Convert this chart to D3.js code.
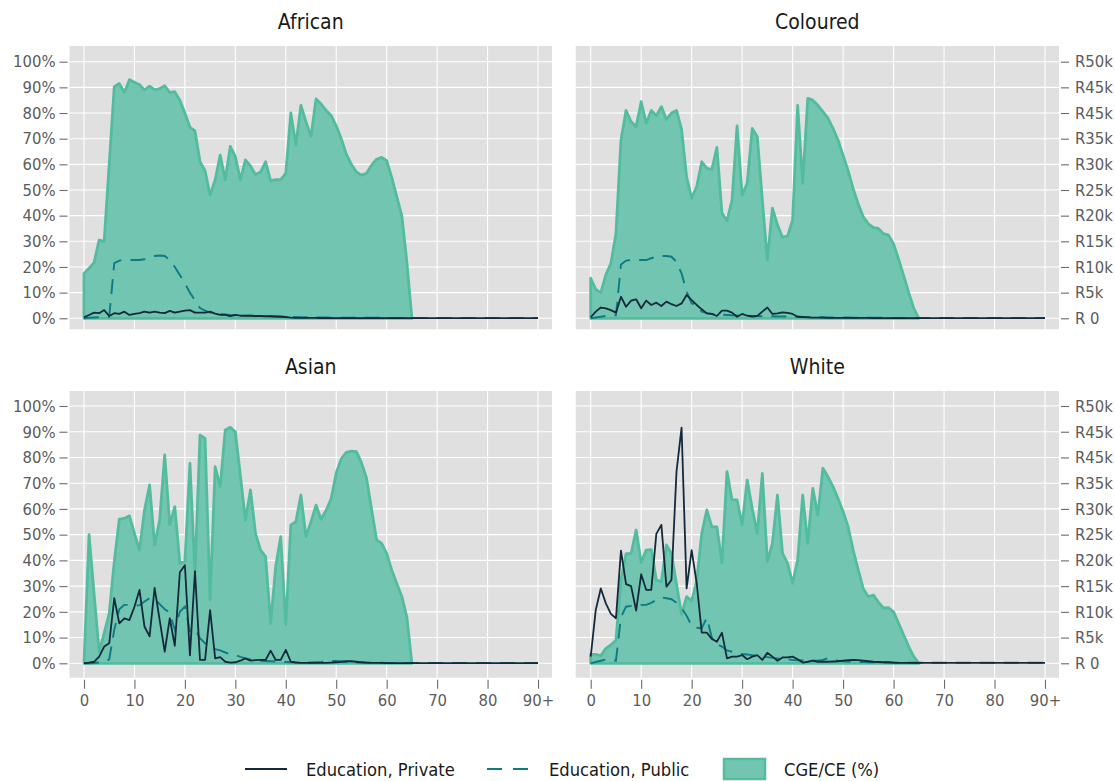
<!DOCTYPE html>
<html>
<head>
<meta charset="utf-8">
<script src="https://cdn.jsdelivr.net/npm/d3@7"></script>
<style>
  body { margin: 0; background: #fff; }
  svg text { font-family: "Liberation Sans Narrow", "DejaVu Sans Condensed", "Roboto", sans-serif; }
</style>
</head>
<body>
<svg id="chart" width="1115" height="781"></svg>
<script>
// ---------------- DATA ----------------
const panelNames = ["African", "Coloured", "Asian", "White"];
const xTickValues = [0, 10, 20, 30, 40, 50, 60, 70, 80, 90];
const xTickLabels = ["0", "10", "20", "30", "40", "50", "60", "70", "80", "90+"];
const yTickValues = [0, 10, 20, 30, 40, 50, 60, 70, 80, 90, 100];
const yTickLabelsLeft = ["0%", "10%", "20%", "30%", "40%", "50%", "60%", "70%", "80%", "90%", "100%"];
const yTickLabelsRight = ["R 0", "R5k", "R10k", "R15k", "R20k", "R25k", "R30k", "R35k", "R45k", "R45k", "R50k"];
const seriesNames = ["Education, Private", "Education, Public", "CGE/CE (%)"];

// CGE/CE (%) by age 0..65
const africanCGE = [17.5, 19.5, 21.7, 30.5, 30, 60, 90.3, 91.5, 88, 93,
  92, 91, 89, 90.5, 89, 89.5, 90.6, 88, 88.3, 85,
  80, 74.4, 73, 61, 57.5, 48, 54, 63.6, 54, 67,
  63, 54, 61.7, 59.4, 56, 57, 61, 53.6, 54, 54,
  56.5, 80, 67.5, 83, 76.6, 70.8, 85.5, 83.5, 81, 79,
  75, 70, 64, 60, 57, 55.8, 56.5, 59.7, 62, 62.7,
  61.4, 55, 47.4, 40, 22, 0];
const colouredCGE = [15.6, 11.3, 10, 16.9, 21.4, 33, 69.5, 81, 76.6, 74.7,
  84.4, 76, 81, 79, 82.5, 77.5, 80, 81, 73.6, 55,
  46.8, 51.3, 61, 58.4, 58, 66.6, 41, 38, 46, 75,
  48, 52.6, 74, 70.8, 46, 22.7, 42.9, 36.4, 31.6, 32,
  38.3, 83, 52.6, 85.7, 85, 83, 80.5, 78, 74, 69.5,
  63.5, 57.5, 50.5, 44.5, 39.6, 36.8, 35.3, 35, 33, 32.4,
  29, 23, 16.6, 10, 3.9, 0];
const asianCGE = [0, 50, 27, 4.5, 11.7, 19.4, 39.5, 56, 56.3, 57.3,
  50.5, 44, 59.6, 69.3, 46, 55.7, 81, 53.8, 60.9, 38.9,
  39.5, 77.7, 35, 88.7, 87.4, 24.6, 76.4, 68.7, 90.7, 91.7,
  90, 73, 55.7, 67.4, 50.5, 44, 41.5, 15.5, 37.6, 49.2,
  14.9, 53.8, 55, 65.4, 49.2, 55, 61.5, 56, 59.5, 64,
  74, 79.5, 82, 82.5, 82.3, 78, 72, 60, 48, 46.6,
  42.7, 36.3, 31, 26, 18, 0];
const whiteCGE = [3.5, 3.5, 3, 5.8, 7.1, 9, 32.4, 42.6, 42.7, 51.8,
  39.2, 44, 44.2, 32.4, 31.7, 46, 42.7, 30.7, 19, 25.9,
  24.3, 32, 50.5, 59.6, 53, 53, 38.9, 74.5, 63.5, 63.5,
  53.8, 71.2, 60.2, 50.5, 73.8, 39.5, 46.6, 65.4, 42.7, 38.9,
  31.1, 40.2, 65.4, 46.6, 68, 57.6, 75.8, 72.5, 68.7, 64,
  59, 53, 44, 36.3, 29, 25.9, 26.5, 23.8, 21.5, 21.6,
  20, 15.5, 11, 6.5, 2.6, 0];

// Education, Private (% scale) by age 0..90
const africanPrivate = [0.4, 1.3, 2.2, 2.0, 3.2, 0.9, 2.0, 1.7, 2.6, 1.3,
  1.7, 2.0, 2.6, 2.2, 2.6, 2.2, 2.0, 2.9, 2.2, 2.6,
  3.0, 3.2, 2.2, 2.2, 2.2, 2.6, 1.8, 1.3, 1.3, 0.8,
  1.3, 1.0, 1.0, 1.0, 0.9, 0.9, 0.8, 0.8, 0.7, 0.6,
  0.5, 0.3, 0.2, 0.2, 0.2, 0.2, 0.2, 0.1, 0.1, 0.1,
  0.1, 0.1, 0.1, 0.1, 0.1, 0.1, 0.1, 0.1, 0.1, 0.1,
  0.1, 0.1, 0.1, 0.1, 0.1, 0.1, 0.1, 0.1, 0.1, 0.1,
  0.1, 0.1, 0.1, 0.1, 0.1, 0.1, 0.1, 0.1, 0.1, 0.1,
  0.1, 0.1, 0.1, 0.1, 0.1, 0.1, 0.1, 0.1, 0.1, 0.1,
  0.1];
const colouredPrivate = [0.4, 2.6, 4.2, 3.9, 3.2, 2.2, 8.4, 4.5, 6.9, 7.4,
  3.9, 6.9, 5.2, 6.1, 4.8, 6.5, 5.5, 4.8, 5.8, 9.1,
  7.1, 5.2, 3.5, 1.9, 1.7, 0.9, 3.0, 3.0, 2.2, 0.6,
  1.7, 1.0, 0.7, 0.9, 2.6, 4.2, 1.7, 1.9, 2.3, 2.1,
  1.7, 0.6, 0.5, 0.4, 0.3, 0.3, 0.3, 0.2, 0.2, 0.2,
  0.2, 0.2, 0.2, 0.2, 0.2, 0.2, 0.1, 0.1, 0.1, 0.1,
  0.1, 0.1, 0.1, 0.1, 0.1, 0.1, 0.1, 0.1, 0.1, 0.1,
  0.1, 0.1, 0.1, 0.1, 0.1, 0.1, 0.1, 0.1, 0.1, 0.1,
  0.1, 0.1, 0.1, 0.1, 0.1, 0.1, 0.1, 0.1, 0.1, 0.1,
  0.1];
const asianPrivate = [0, 0.3, 0.6, 2.6, 6.5, 7.8, 25.3, 15.5, 17.5, 16.8,
  22, 28.5, 14.2, 10.5, 29.3, 16.8, 4.5, 17.5, 6.8, 35.4,
  38.1, 3.1, 35.8, 1.3, 1.3, 20.7, 1.9, 2.4, 0.6, 0.3,
  0.4, 1.0, 1.9, 1.0, 1.2, 1.3, 1.3, 4.9, 1.3, 1.3,
  5.2, 0.6, 0.3, 0.2, 0.2, 0.2, 0.2, 0.2, 0.2, 0.3,
  0.4, 0.6, 0.8, 0.8, 0.6, 0.4, 0.3, 0.2, 0.2, 0.2,
  0.1, 0.1, 0.1, 0.1, 0.1, 0.1, 0.1, 0.1, 0.1, 0.1,
  0.1, 0.1, 0.1, 0.1, 0.1, 0.1, 0.1, 0.1, 0.1, 0.1,
  0.1, 0.1, 0.1, 0.1, 0.1, 0.1, 0.1, 0.1, 0.1, 0.1,
  0.1];
const whitePrivate = [2.6, 20.7, 29.1, 23.3, 19.2, 17.5, 43.8, 30.8, 30, 20.5,
  34.6, 28.5, 28.5, 50.3, 53.8, 29.8, 32.4, 74.5, 91.6, 29.1,
  44, 31.1, 11.9, 11.9, 9.5, 8.4, 11.9, 1.9, 2.6, 2.6,
  3.2, 1.6, 2.6, 3.2, 1.3, 4.1, 2.6, 1.0, 2.3, 2.3,
  2.6, 1.6, 0.3, 0.6, 1.0, 0.6, 0.6, 0.6, 0.7, 0.8,
  1.0, 1.2, 1.3, 1.2, 1.0, 0.8, 0.6, 0.5, 0.4, 0.4,
  0.3, 0.2, 0.2, 0.2, 0.2, 0.2, 0.2, 0.2, 0.2, 0.2,
  0.2, 0.2, 0.2, 0.2, 0.2, 0.2, 0.2, 0.2, 0.2, 0.2,
  0.2, 0.2, 0.2, 0.2, 0.2, 0.2, 0.2, 0.2, 0.2, 0.2,
  0.2];

// Education, Public (% scale) by age 0..90
const africanPublic = [0, 0.2, 0.3, 0.4, 0.5, 0.6, 21.5, 22.5, 22.7, 22.7,
  22.7, 22.7, 23.0, 23.8, 24.3, 24.5, 24.3, 22.7, 20.0, 16.9,
  13.6, 10.0, 7.0, 4.0, 3.0, 2.2, 2.0, 1.7, 1.5, 1.3,
  1.2, 1.1, 1.0, 1.0, 0.9, 0.9, 0.8, 0.8, 0.7, 0.7,
  0.6, 0.5, 0.5, 0.4, 0.4, 0.3, 0.3, 0.3, 0.3, 0.2,
  0.2, 0.2, 0.2, 0.2, 0.2, 0.2, 0.2, 0.2, 0.2, 0.2,
  0.1, 0.1, 0.1, 0.1, 0.1, 0.1, 0.1, 0.1, 0.1, 0.1,
  0.1, 0.1, 0.1, 0.1, 0.1, 0.1, 0.1, 0.1, 0.1, 0.1,
  0.1, 0.1, 0.1, 0.1, 0.1, 0.1, 0.1, 0.1, 0.1, 0.1,
  0.1];
const colouredPublic = [0, 0.3, 0.6, 1.0, 1.1, 1.2, 21.0, 22.5, 22.7, 22.7,
  22.7, 22.7, 23.4, 24.0, 24.3, 24.3, 24.0, 22.0, 17.5, 10.4,
  5.8, 5.2, 2.6, 2.0, 1.7, 1.5, 1.4, 1.3, 1.2, 1.1,
  1.0, 1.0, 0.9, 0.9, 0.8, 0.8, 0.8, 0.7, 0.7, 0.7,
  0.6, 0.6, 0.5, 0.5, 0.4, 0.4, 0.4, 0.3, 0.3, 0.3,
  0.3, 0.3, 0.2, 0.2, 0.2, 0.2, 0.2, 0.2, 0.2, 0.2,
  0.1, 0.1, 0.1, 0.1, 0.1, 0.1, 0.1, 0.1, 0.1, 0.1,
  0.1, 0.1, 0.1, 0.1, 0.1, 0.1, 0.1, 0.1, 0.1, 0.1,
  0.1, 0.1, 0.1, 0.1, 0.1, 0.1, 0.1, 0.1, 0.1, 0.1,
  0.1];
const asianPublic = [0, 0, 0.1, 0.3, 0.5, 1.5, 13.0, 21.0, 22.7, 22.7,
  22.5, 22.5, 24.0, 25.3, 25.0, 23.0, 21.0, 19.7, 13.0, 20.0,
  22.0, 12.5, 13.5, 9.7, 7.8, 6.5, 5.5, 5.0, 4.2, 3.5,
  3.2, 2.5, 1.9, 1.5, 1.2, 1.0, 0.9, 0.8, 0.7, 0.6,
  0.5, 0.4, 0.4, 0.3, 0.3, 0.3, 0.4, 0.5, 0.7, 0.9,
  0.9, 0.7, 0.5, 0.4, 0.3, 0.3, 0.2, 0.2, 0.2, 0.2,
  0.1, 0.1, 0.1, 0.1, 0.1, 0.1, 0.1, 0.1, 0.1, 0.1,
  0.1, 0.1, 0.1, 0.1, 0.1, 0.1, 0.1, 0.1, 0.1, 0.1,
  0.1, 0.1, 0.1, 0.1, 0.1, 0.1, 0.1, 0.1, 0.1, 0.1,
  0.1];
const whitePublic = [0, 0.5, 1.0, 1.5, 1.2, 1.0, 18.0, 22.0, 22.3, 22.7,
  22.7, 22.7, 23.5, 24.6, 25.6, 25.3, 24.9, 23.5, 21.4, 18.5,
  14.5, 13.8, 13.6, 17.7, 10.0, 7.5, 6.5, 5.0, 4.5, 4.0,
  3.6, 3.4, 3.2, 2.8, 2.6, 2.4, 2.1, 1.9, 1.7, 1.6,
  1.3, 1.2, 1.1, 1.0, 1.0, 1.0, 1.3, 2.0, 1.5, 1.0,
  0.8, 0.7, 0.6, 0.5, 0.5, 0.4, 0.4, 0.3, 0.3, 0.3,
  0.2, 0.2, 0.2, 0.2, 0.2, 0.2, 0.2, 0.2, 0.2, 0.2,
  0.2, 0.2, 0.2, 0.2, 0.2, 0.2, 0.2, 0.2, 0.2, 0.2,
  0.2, 0.2, 0.2, 0.2, 0.2, 0.2, 0.2, 0.2, 0.2, 0.2,
  0.2];

// ---------------- LAYOUT & STYLE ----------------
const colors = { area: "#72c6b1", areaStroke: "#53bc9e", priv: "#14293c", pub: "#0d7b84",
  panel: "#e0e0e0", grid: "#ffffff", tick: "#6b6b6b", tickText: "#5c5c5c", title: "#1a1a1a" };

const cols = [
  { left: 69.5, right: 552, x0: 84, x90: 538 },
  { left: 575.7, right: 1059, x0: 590.7, x90: 1045 }
];
const rows = [
  { top: 46, bottom: 329.3, y0: 318.3, y100: 61.7, titleY: 22 },
  { top: 391, bottom: 677.7, y0: 663.3, y100: 406, titleY: 367 }
];

const panels = [
  { name: panelNames[0], col: 0, row: 0, cge: africanCGE, priv: africanPrivate, pub: africanPublic },
  { name: panelNames[1], col: 1, row: 0, cge: colouredCGE, priv: colouredPrivate, pub: colouredPublic },
  { name: panelNames[2], col: 0, row: 1, cge: asianCGE, priv: asianPrivate, pub: asianPublic },
  { name: panelNames[3], col: 1, row: 1, cge: whiteCGE, priv: whitePrivate, pub: whitePublic }
];

const svg = d3.select("#chart");

panels.forEach(p => {
  const c = cols[p.col], r = rows[p.row];
  const x = d3.scaleLinear().domain([0, 90]).range([c.x0, c.x90]);
  const y = d3.scaleLinear().domain([0, 100]).range([r.y0, r.y100]);
  const g = svg.append("g");

  g.append("rect").attr("x", c.left).attr("y", r.top)
    .attr("width", c.right - c.left).attr("height", r.bottom - r.top)
    .attr("fill", colors.panel);

  g.selectAll(".hg").data(yTickValues).enter().append("line")
    .attr("x1", c.left).attr("x2", c.right)
    .attr("y1", d => y(d)).attr("y2", d => y(d))
    .attr("stroke", colors.grid).attr("stroke-width", 1.1);
  g.selectAll(".vg").data(xTickValues).enter().append("line")
    .attr("y1", r.top).attr("y2", r.bottom)
    .attr("x1", d => x(d)).attr("x2", d => x(d))
    .attr("stroke", colors.grid).attr("stroke-width", 1.1);

  const cgeData = p.cge.map((v, i) => [i, v]);
  const area = d3.area().x(d => x(d[0])).y0(y(0)).y1(d => y(d[1]));
  g.append("path").datum(cgeData).attr("d", area)
    .attr("fill", colors.area).attr("stroke", colors.areaStroke)
    .attr("stroke-width", 2.8).attr("stroke-linejoin", "round");

  const line = d3.line().x(d => x(d[0])).y(d => y(d[1]));
  g.append("path").datum(p.pub.map((v, i) => [i, v])).attr("d", line)
    .attr("fill", "none").attr("stroke", colors.pub).attr("stroke-width", 1.9)
    .attr("stroke-dasharray", "15,9");

  g.append("path").datum(p.priv.map((v, i) => [i, v])).attr("d", line)
    .attr("fill", "none").attr("stroke", colors.priv).attr("stroke-width", 1.8)
    .attr("stroke-linejoin", "round");

  svg.append("text").attr("x", (c.left + c.right) / 2).attr("y", r.titleY)
    .attr("text-anchor", "middle").attr("dominant-baseline", "central")
    .attr("font-size", 21).attr("fill", colors.title).text(p.name);

  if (p.col === 0) {
    const ax = d3.axisLeft(y).tickValues(yTickValues).tickSize(8).tickPadding(4)
      .tickFormat((d, i) => yTickLabelsLeft[i]);
    const ag = svg.append("g").attr("transform", `translate(${c.left - 2},0)`).call(ax);
    ag.select(".domain").remove();
    ag.selectAll("line").attr("stroke", colors.tick).attr("stroke-width", 1.1);
    ag.selectAll("text").attr("font-size", 16.5).attr("fill", colors.tickText);
  }
  if (p.col === 1) {
    const ax = d3.axisRight(y).tickValues(yTickValues).tickSize(8).tickPadding(6)
      .tickFormat((d, i) => yTickLabelsRight[i]);
    const ag = svg.append("g").attr("transform", `translate(${c.right + 2},0)`).call(ax);
    ag.select(".domain").remove();
    ag.selectAll("line").attr("stroke", colors.tick).attr("stroke-width", 1.1);
    ag.selectAll("text").attr("font-size", 16.5).attr("fill", colors.tickText);
  }
  if (p.row === 1) {
    const ax = d3.axisBottom(x).tickValues(xTickValues).tickSize(9).tickPadding(6)
      .tickFormat((d, i) => xTickLabels[i]);
    const ag = svg.append("g").attr("transform", `translate(0,${r.bottom + 2})`).call(ax);
    ag.select(".domain").remove();
    ag.selectAll("line").attr("stroke", colors.tick).attr("stroke-width", 1.1);
    ag.selectAll("text").attr("font-size", 16.5).attr("fill", colors.tickText);
  }
});

// ---------------- LEGEND ----------------
const lg = svg.append("g");
const ly = 769;
lg.append("line").attr("x1", 245).attr("x2", 287).attr("y1", ly).attr("y2", ly)
  .attr("stroke", colors.priv).attr("stroke-width", 2);
lg.append("text").attr("x", 306).attr("y", ly).attr("dominant-baseline", "central")
  .attr("font-size", 18.2).attr("fill", colors.title).text(seriesNames[0]);
lg.append("line").attr("x1", 487).attr("x2", 530).attr("y1", ly).attr("y2", ly)
  .attr("stroke", colors.pub).attr("stroke-width", 2).attr("stroke-dasharray", "15,11");
lg.append("text").attr("x", 549).attr("y", ly).attr("dominant-baseline", "central")
  .attr("font-size", 18.2).attr("fill", colors.title).text(seriesNames[1]);
lg.append("rect").attr("x", 724).attr("y", 759).attr("width", 41).attr("height", 20)
  .attr("fill", colors.area).attr("stroke", colors.areaStroke).attr("stroke-width", 2.5);
lg.append("text").attr("x", 784).attr("y", ly).attr("dominant-baseline", "central")
  .attr("font-size", 18.2).attr("fill", colors.title).text(seriesNames[2]);
</script>
</body>
</html>
